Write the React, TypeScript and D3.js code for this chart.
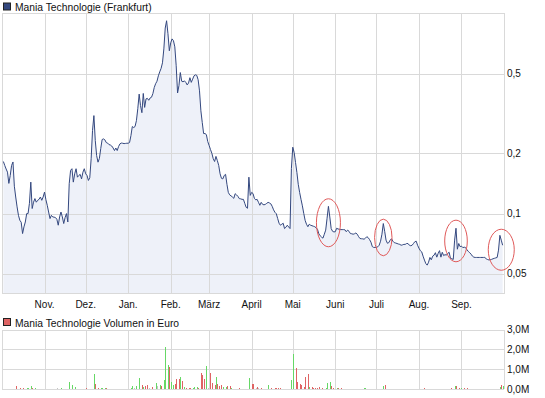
import React from "react";
import * as d3 from "d3";

// ---------- data ----------
const priceStart = "2006-10-01"; // first value is the day after
const priceValues: number[] = [
  // Oct 2006
  0.182, 0.174, 0.167, 0.161, 0.1415, 0.155, 0.174, 0.181, 0.137, 0.121,
  0.108, 0.098, 0.0926, 0.0905, 0.0795, 0.0858, 0.0908, 0.1, 0.1, 0.1125,
  0.1436, 0.106, 0.114, 0.1188, 0.114, 0.1165, 0.1178, 0.121, 0.1165, 0.121,
  // Nov
  0.128, 0.1174, 0.11, 0.1018, 0.0944, 0.098, 0.0962, 0.096, 0.0955, 0.0937,
  0.0875, 0.0962, 0.1018, 0.0962, 0.0892, 0.0955, 0.1, 0.0908, 0.141, 0.1643,
  0.1675, 0.1436, 0.158, 0.1675, 0.152, 0.155, 0.157, 0.149, 0.161, 0.1675,
  // Dec
  0.158, 0.155, 0.1464, 0.151, 0.1878, 0.26, 0.3085, 0.2316, 0.195, 0.1806,
  0.1885, 0.2114, 0.2343, 0.236, 0.2335, 0.2263, 0.225, 0.221, 0.22, 0.2175,
  0.2127, 0.2064, 0.2125, 0.2064, 0.2163, 0.223, 0.225, 0.2245, 0.2236, 0.224,
  0.2245,
  // Jan 2007
  0.2245, 0.2263, 0.245, 0.272, 0.269, 0.272, 0.291, 0.334, 0.395, 0.346,
  0.319, 0.398, 0.339, 0.374, 0.376, 0.368, 0.378, 0.381, 0.397, 0.426,
  0.445, 0.458, 0.4875, 0.51, 0.531, 0.566, 0.664, 0.844, 0.918, 0.791,
  0.65,
  // Feb
  0.712, 0.745, 0.73, 0.68, 0.547, 0.4, 0.435, 0.506, 0.458, 0.455,
  0.46, 0.452, 0.439, 0.449, 0.477, 0.452, 0.469, 0.4875, 0.493, 0.49,
  0.466, 0.41, 0.326, 0.285, 0.251, 0.251, 0.248, 0.229,
  // Mar
  0.219, 0.209, 0.2, 0.188, 0.182, 0.193, 0.184, 0.174, 0.158, 0.15,
  0.149, 0.155, 0.157, 0.14, 0.1276, 0.124, 0.1226, 0.121, 0.1192, 0.1257,
  0.124, 0.1219, 0.1188, 0.1185, 0.1178, 0.1178, 0.1125, 0.1075, 0.1063, 0.152,
  0.1233,
  // Apr
  0.1276, 0.126, 0.1192, 0.1171, 0.1178, 0.1138, 0.11, 0.1138, 0.1112, 0.1106,
  0.1112, 0.1125, 0.1138, 0.113, 0.1119, 0.1087, 0.1044, 0.1015, 0.0998, 0.0944,
  0.0895, 0.0875, 0.0885, 0.0895, 0.0842, 0.0855, 0.0875, 0.0858, 0.0842, 0.168,
  // May
  0.2145, 0.202, 0.18, 0.1605, 0.14, 0.1276, 0.1178, 0.1093, 0.1003, 0.0926,
  0.0885, 0.086, 0.0885, 0.0875, 0.087, 0.0865, 0.086, 0.085, 0.0835, 0.0793,
  0.0775, 0.0763, 0.0754, 0.0789, 0.0827, 0.0948, 0.1087, 0.0962, 0.0842, 0.0816,
  0.081,
  // Jun
  0.0812, 0.0845, 0.0838, 0.0835, 0.0832, 0.0832, 0.0832, 0.083, 0.0812, 0.0827,
  0.0816, 0.0795, 0.0793, 0.0789, 0.0793, 0.08, 0.0789, 0.0767, 0.0751, 0.0749,
  0.0748, 0.0745, 0.0754, 0.0767, 0.0758, 0.0741, 0.072, 0.0684, 0.0678, 0.0678,
  // Jul
  0.0678, 0.0683, 0.0695, 0.0728, 0.0789, 0.0892, 0.0816, 0.0737, 0.0711, 0.0716,
  0.0737, 0.0749, 0.0728, 0.0716, 0.0713, 0.0709, 0.0705, 0.0702, 0.0695, 0.0698,
  0.0702, 0.0702, 0.0709, 0.0709, 0.0695, 0.0691, 0.0695, 0.0709, 0.0724, 0.0728,
  0.0695,
  // Aug
  0.0672, 0.0653, 0.0644, 0.0613, 0.0586, 0.0563, 0.0553, 0.0572, 0.0604, 0.0588,
  0.0613, 0.062, 0.0638, 0.0606, 0.0633, 0.0653, 0.0606, 0.0641, 0.0617, 0.0624,
  0.062, 0.0633, 0.0641, 0.0597, 0.0595, 0.059, 0.0737, 0.0845, 0.0664, 0.0709,
  0.0684,
  // Sep
  0.0688, 0.0676, 0.068, 0.0676, 0.066, 0.0647, 0.0638, 0.0627, 0.0613, 0.0606,
  0.0604, 0.0604, 0.0604, 0.0604, 0.0604, 0.0604, 0.0604, 0.0604, 0.0595, 0.059,
  0.0587, 0.0589, 0.0591, 0.0595, 0.0598, 0.0601, 0.0604, 0.0657, 0.0779, 0.0737,
  // Oct 1
  0.0695,
];

const volumeDates = [
  "2006-10-11", "2006-10-14", "2006-10-16", "2006-10-19", "2006-10-20", "2006-10-22", "2006-10-23", "2006-10-25",
  "2006-11-10", "2006-11-13", "2006-11-19", "2006-11-21", "2006-11-23",
  "2006-12-01", "2006-12-07", "2006-12-08", "2006-12-10", "2006-12-12", "2006-12-13", "2006-12-15", "2006-12-16",
  "2007-01-03", "2007-01-04", "2007-01-05", "2007-01-07", "2007-01-09", "2007-01-11", "2007-01-12", "2007-01-13",
  "2007-01-15", "2007-01-16", "2007-01-18", "2007-01-21", "2007-01-22", "2007-01-24", "2007-01-25", "2007-01-27",
  "2007-01-28", "2007-01-30", "2007-01-31",
  "2007-02-01", "2007-02-03", "2007-02-04", "2007-02-05", "2007-02-07", "2007-02-08", "2007-02-09", "2007-02-11",
  "2007-02-12", "2007-02-14", "2007-02-15", "2007-02-17", "2007-02-18", "2007-02-20", "2007-02-21", "2007-02-23",
  "2007-02-24", "2007-02-25", "2007-02-27", "2007-02-28",
  "2007-03-02", "2007-03-03", "2007-03-05", "2007-03-06", "2007-03-07", "2007-03-08", "2007-03-10", "2007-03-11",
  "2007-03-13", "2007-03-14", "2007-03-16", "2007-03-17", "2007-03-23", "2007-03-30",
  "2007-04-01", "2007-04-02", "2007-04-04", "2007-04-05", "2007-04-06", "2007-04-08", "2007-04-13", "2007-04-15",
  "2007-04-18", "2007-04-19", "2007-04-20", "2007-04-22", "2007-04-30",
  "2007-05-01", "2007-05-03", "2007-05-04", "2007-05-06", "2007-05-07", "2007-05-09", "2007-05-10", "2007-05-12",
  "2007-05-13", "2007-05-15", "2007-05-16", "2007-05-17", "2007-05-19", "2007-05-20", "2007-05-22", "2007-05-25",
  "2007-05-26", "2007-05-28", "2007-05-29", "2007-05-30",
  "2007-06-02", "2007-06-03", "2007-06-05", "2007-06-22", "2007-06-23",
  "2007-07-06", "2007-07-07",
  "2007-08-05", "2007-08-24", "2007-08-27", "2007-08-28", "2007-08-30",
  "2007-09-01", "2007-09-03", "2007-09-05", "2007-09-29", "2007-09-30", "2007-10-01",
];
// in millions of euro
const volumeValues = [
  0.15, 0.05, 0.05, 0.05, 0.05, 0.15, 0.05, 0.05,
  0.05, 0.05, 0.35, 0.2, 0.1,
  0.05, 0.76, 0.25, 0.05, 0.05, 0.05, 0.05, 0.05,
  0.05, 0.15, 0.05, 0.15, 0.56, 0.2, 0.1, 0.15,
  0.2, 0.05, 0.1, 0.3, 0.15, 0.2, 0.15, 0.45,
  2.12, 1.21, 1.11,
  0.35, 0.2, 0.25, 0.5, 0.5, 0.6, 0.4, 0.1,
  0.05, 0.05, 0.05, 0.05, 0.1, 0.1, 0.05, 0.81,
  0.71, 0.5, 1.16, 0.05,
  0.81, 0.3, 0.2, 0.6, 0.25, 0.15, 0.2, 0.1,
  0.1, 0.15, 0.15, 0.05, 0.05, 0.56,
  0.25, 0.25, 0.05, 0.1, 0.05, 0.05, 0.2, 0.05,
  0.05, 0.05, 0.05, 0.05, 0.45,
  1.77, 1.06, 0.35, 0.25, 0.2, 0.1, 0.6, 0.76,
  0.1, 0.1, 0.05, 0.05, 0.05, 0.1, 0.05, 0.05,
  0.3, 0.35, 0.15, 0.05,
  0.05, 0.05, 0.05, 0.05, 0.05,
  0.15, 0.2,
  0.05, 0.05, 0.15, 0.15, 0.05,
  0.05, 0.05, 0.05, 0.1, 0.2, 0.15,
];
// u = price up, d = price down, n = unchanged
const volumeMoves = [
  "d", "d", "d", "u", "u", "u", "d", "u",
  "n", "u", "u", "u", "u",
  "d", "u", "d", "d", "u", "u", "u", "d",
  "u", "u", "n", "u", "u", "d", "u", "d",
  "d", "n", "d", "u", "n", "u", "d", "u",
  "u", "u", "d",
  "u", "u", "d", "d", "d", "u", "d", "u",
  "d", "d", "d", "u", "u", "u", "d", "d",
  "d", "d", "u", "n",
  "d", "d", "d", "u", "d", "d", "d", "u",
  "u", "d", "d", "u", "d", "u",
  "d", "d", "n", "d", "n", "d", "u", "d",
  "d", "d", "d", "d", "u",
  "u", "d", "d", "d", "d", "d", "d", "d",
  "u", "d", "d", "d", "d", "d", "d", "u",
  "u", "u", "d", "d",
  "u", "d", "d", "u", "u",
  "u", "d",
  "d", "d", "u", "d", "d",
  "u", "d", "d", "u", "d", "u",
];

const monthStarts = [
  "2006-11-01", "2006-12-01", "2007-01-01", "2007-02-01", "2007-03-01", "2007-04-01",
  "2007-05-01", "2007-06-01", "2007-07-01", "2007-08-01", "2007-09-01",
];
const monthLabels = ["Nov.", "Dez.", "Jan.", "Feb.", "März", "April", "Mai", "Juni", "Juli", "Aug.", "Sep."];

const priceTicks = [0.05, 0.1, 0.2, 0.5];
const priceTickLabels = ["0,05", "0,1", "0,2", "0,5"];
const volumeTicks = [0, 1, 2, 3];
const volumeTickLabels = ["0,0M", "1,0M", "2,0M", "3,0M"];

const highlightDates = ["2007-05-27", "2007-07-06", "2007-08-28", "2007-09-30"];
const highlightValues = [0.09, 0.076, 0.073, 0.066];

const priceTitle = "Mania Technologie (Frankfurt)";
const volumeTitle = "Mania Technologie Volumen in Euro";

// ---------- component ----------
export default function App() {
  const W = 545;
  const H = 398;
  const left = 2;
  const right = 504;
  const pTop = 13.3;
  const pBottom = 293.3;
  const vTop = 329.7;
  const vBottom = 389;

  const parse = d3.timeParse("%Y-%m-%d");
  const start = parse(priceStart) as Date;
  const prices = priceValues.map((v, i) => ({ date: d3.timeDay.offset(start, i + 1), value: v }));

  const x = d3
    .scaleTime()
    .domain([start, parse("2007-10-02") as Date])
    .range([left, right]);
  const y = d3.scaleLog().domain([0.04, 1.0]).range([pBottom, pTop]);
  const yv = d3.scaleLinear().domain([0, 3]).range([vBottom, vTop]);

  const line = d3
    .line<{ date: Date; value: number }>()
    .x((d) => x(d.date))
    .y((d) => y(d.value));
  const area = d3
    .area<{ date: Date; value: number }>()
    .x((d) => x(d.date))
    .y0(pBottom)
    .y1((d) => y(d.value));

  const months = monthStarts.map((s) => parse(s) as Date);
  const font = "'Liberation Sans', Arial, sans-serif";
  const grid = "#d9d9d9";
  const lineColor = "#34487f";
  const moveColor: Record<string, string> = { u: "#66d866", d: "#df6464", n: "#c4c4c4" };
  const radii = [
    [12, 24],
    [8.7, 18.3],
    [11.3, 20.8],
    [13, 20.5],
  ];

  return (
    <svg
      width={W}
      height={H}
      style={{ position: "absolute", left: 0, top: 0, background: "#fff" }}
      fontFamily={font}
    >
      {/* legend top */}
      <rect x={3.5} y={3} width={7} height={7} fill={lineColor} stroke="#222" strokeWidth={1} />
      <text x={15} y={11} fontSize={10.3} fill="#111">
        {priceTitle}
      </text>

      {/* price area */}
      <path d={area(prices) as string} fill="#eef1f9" />

      {/* price grid */}
      <g shapeRendering="crispEdges" stroke={grid} strokeWidth={1}>
        {months.map((m, i) => (
          <line key={i} x1={Math.round(x(m)) + 0.5} x2={Math.round(x(m)) + 0.5} y1={pTop} y2={pBottom} />
        ))}
        {priceTicks.map((t, i) => (
          <line key={"h" + i} x1={left} x2={right} y1={Math.round(y(t)) + 0.5} y2={Math.round(y(t)) + 0.5} />
        ))}
        <rect x={left + 0.5} y={Math.round(pTop) + 0.5} width={right - left} height={Math.round(pBottom - pTop)} fill="none" />
      </g>

      {/* price line */}
      <path d={line(prices) as string} fill="none" stroke={lineColor} strokeWidth={1} />

      {/* highlight ellipses */}
      {highlightDates.map((s, i) => (
        <ellipse
          key={"e" + i}
          cx={x(parse(s) as Date)}
          cy={y(highlightValues[i])}
          rx={radii[i][0]}
          ry={radii[i][1]}
          fill="none"
          stroke="#e05a5a"
          strokeWidth={1}
        />
      ))}

      {/* price axis labels */}
      {priceTicks.map((t, i) => (
        <text key={"pl" + i} x={507} y={y(t) + 3.6} fontSize={10} fill="#111">
          {priceTickLabels[i]}
        </text>
      ))}

      {/* month labels */}
      {months.map((m, i) => (
        <text key={"ml" + i} x={x(m)} y={307.5} fontSize={10} textAnchor="middle" fill="#111">
          {monthLabels[i]}
        </text>
      ))}

      {/* volume legend */}
      <rect x={3.5} y={318.5} width={7} height={7} fill="#df6464" stroke="#222" strokeWidth={1} />
      <text x={15} y={326.5} fontSize={10.3} fill="#111">
        {volumeTitle}
      </text>

      {/* volume grid */}
      <g shapeRendering="crispEdges" stroke={grid} strokeWidth={1}>
        {months.map((m, i) => (
          <line key={"v" + i} x1={Math.round(x(m)) + 0.5} x2={Math.round(x(m)) + 0.5} y1={vTop} y2={vBottom} />
        ))}
        {volumeTicks.map((t, i) => (
          <line key={"vh" + i} x1={left} x2={right} y1={Math.round(yv(t)) + 0.5} y2={Math.round(yv(t)) + 0.5} />
        ))}
        <line x1={left + 0.5} x2={left + 0.5} y1={vTop} y2={vBottom} />
        <line x1={right + 0.5} x2={right + 0.5} y1={vTop} y2={vBottom} />
      </g>

      {/* volume bars */}
      <g shapeRendering="crispEdges">
        {volumeDates.map((s, i) => {
          const xx = Math.round(x(parse(s) as Date));
          const top = yv(volumeValues[i]);
          return (
            <rect
              key={"b" + i}
              x={xx}
              y={Math.min(top, vBottom - 1)}
              width={1}
              height={Math.max(1, vBottom - top)}
              fill={moveColor[volumeMoves[i]]}
            />
          );
        })}
      </g>

      {/* volume axis labels */}
      {volumeTicks.map((t, i) => (
        <text key={"vl" + i} x={507} y={yv(t) + 3.6} fontSize={10} fill="#111">
          {volumeTickLabels[i]}
        </text>
      ))}
    </svg>
  );
}
